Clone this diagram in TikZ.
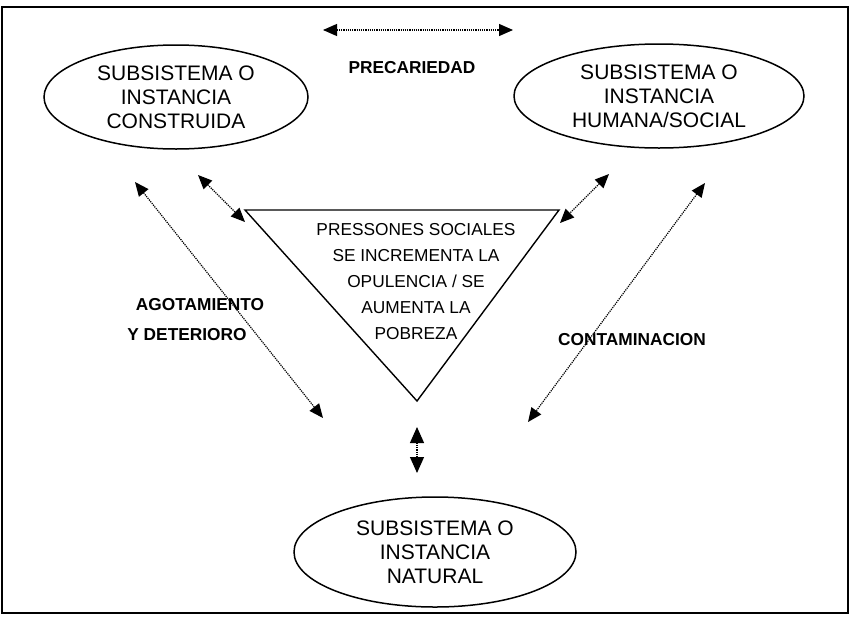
\documentclass[tikz,border=0pt]{standalone}
\usepackage{fontspec}
\setmainfont{Liberation Sans}
\usetikzlibrary{shapes.geometric,arrows.meta}
\newcommand{\punto}[2]{\coordinate (#1) at (#2)}
\newcommand{\flecha}[2]{\draw[doble] (#1) -- (#2)}
\newcommand{\sub}[4]{\node[subsistema,minimum width=#3,minimum height=#4] (#1) at (#2)}

\begin{document}
\begin{tikzpicture}[x=1pt,y=-1pt,
	subsistema/.style={draw,line width=1.5pt,ellipse,inner sep=0pt,align=center,font=\fontsize{21}{24}\selectfont},
	etiqueta/.style={inner sep=0pt,font=\bfseries\fontsize{17.3}{20}\selectfont},
	doble/.style={densely dotted,line width=1.2pt,{Triangle[length=14pt,width=12pt]}-{Triangle[length=14pt,width=12pt]}}]
\useasboundingbox (0,0) rectangle (850,616);
%Frame
	\draw[line width=2pt] (2,7) rectangle (848,613);
%The three subsystems
	\sub{construida}{176,97}{264pt}{104pt} {SUBSISTEMA O\\INSTANCIA\\CONSTRUIDA};
	\sub{humana}{659,96}{290pt}{104pt} {SUBSISTEMA O\\INSTANCIA\\HUMANA/SOCIAL};
	\sub{natural}{435,552}{282pt}{110pt} {SUBSISTEMA O\\INSTANCIA\\NATURAL};
%The triangle
	\punto{vizq}{245,210};
	\punto{vder}{559,210};
	\punto{vbajo}{417,401};
	\draw[line width=1.4pt] (vizq) -- (vder) -- (vbajo) -- cycle;
	\node[align=center,font=\fontsize{17.3}{26}\selectfont] (presiones) at (416,282)
		{PRESSONES SOCIALES\\SE INCREMENTA LA\\OPULENCIA / SE\\AUMENTA LA\\POBREZA};
%Labels
	\node[etiqueta] (precariedad) at (412,68) {PRECARIEDAD};
	\node[etiqueta] (agotamiento) at (200,305) {AGOTAMIENTO};
	\node[etiqueta] (deterioro) at (187,335) {Y DETERIORO};
	\node[etiqueta] (contaminacion) at (632,340) {CONTAMINACION};
%Arrows
	\punto{prec1}{323,30};
	\punto{prec2}{513,30};
	\punto{agot1}{135,182};
	\punto{agot2}{323,418};
	\punto{izq1}{198,175};
	\punto{izq2}{245,222};
	\punto{der1}{609,174};
	\punto{der2}{560,223};
	\punto{cont1}{705,183};
	\punto{cont2}{528,422};
	\punto{nat1}{417,427};
	\punto{nat2}{417,473};
	\flecha{prec1}{prec2};
	\flecha{agot1}{agot2};
	\flecha{izq1}{izq2};
	\flecha{der1}{der2};
	\flecha{cont1}{cont2};
	\draw[doble,{Triangle[length=16pt,width=14pt]}-{Triangle[length=16pt,width=14pt]}] (nat1) -- (nat2);
\end{tikzpicture}
\end{document}
